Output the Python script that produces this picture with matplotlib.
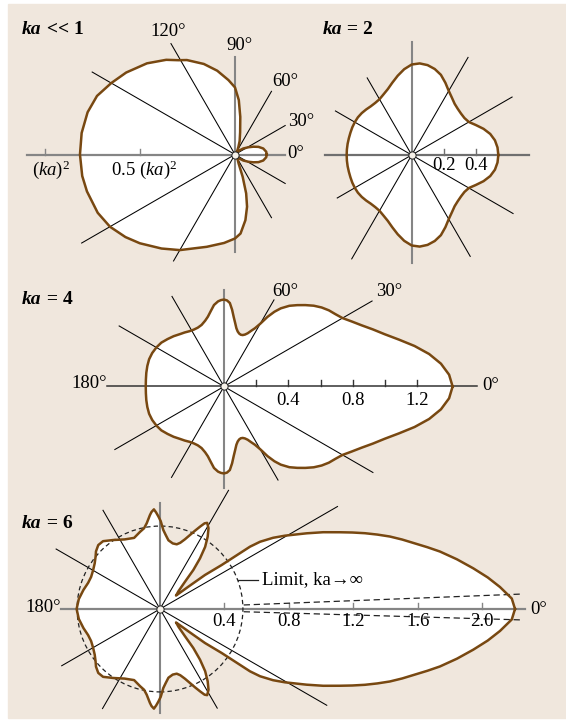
import numpy as np
import matplotlib.pyplot as plt
from matplotlib.patches import Circle, Rectangle
from matplotlib.transforms import Affine2D

plt.rcParams['font.family'] = ['Liberation Serif', 'DejaVu Serif']
plt.rcParams['mathtext.fontset'] = 'custom'
plt.rcParams['mathtext.rm'] = 'Liberation Serif'
plt.rcParams['mathtext.it'] = 'Liberation Serif:italic'
plt.rcParams['mathtext.bf'] = 'Liberation Serif:bold'

W, H = 566, 722
BEIGE = '#f0e7dd'
BROWN = '#784811'
GREY = '#858585'

# scattered pressure amplitude vs angle (deg)
# ka << 1, in units of (ka)^2 ; upper and lower halves differ slightly
ang_p1_up = [0, 5, 12, 18, 23, 28, 36, 42, 48, 55, 60, 66, 71, 77, 82, 86, 90,
             95, 102, 109, 117, 121, 126, 134, 143, 150, 157, 164, 172, 180]
r_p1_up = [0.167, 0.165, 0.152, 0.13, 0.105, 0.082, 0.054, 0.033, 0.012, 0.012,
           0.025, 0.044, 0.075, 0.12, 0.2, 0.287, 0.353, 0.393, 0.451, 0.504,
           0.558, 0.579, 0.616, 0.667, 0.717, 0.752, 0.789, 0.807, 0.815, 0.816]
ang_p1_lo = [0, 5, 12, 18, 23, 28, 36, 42, 48, 55, 62, 68, 71, 74, 77, 81, 86,
             90, 97, 107, 120, 128, 137, 143, 150, 157, 166, 172, 180]
r_p1_lo = [0.167, 0.165, 0.152, 0.13, 0.105, 0.082, 0.054, 0.033, 0.012, 0.015,
           0.03, 0.05, 0.124, 0.213, 0.282, 0.35, 0.417, 0.442, 0.469, 0.508,
           0.581, 0.628, 0.685, 0.722, 0.76, 0.785, 0.803, 0.812, 0.816]

# ka = 2
ang_ka2 = list(range(0, 181, 5))
r_ka2 = [0.538, 0.535, 0.525, 0.505, 0.475, 0.44, 0.41, 0.40, 0.40, 0.405,
         0.415, 0.435, 0.46, 0.495, 0.53, 0.553, 0.567, 0.571, 0.562, 0.535,
         0.50, 0.465, 0.435, 0.415, 0.40, 0.395, 0.395, 0.40, 0.405, 0.408,
         0.408, 0.407, 0.405, 0.404, 0.404, 0.404, 0.404]

# ka = 4
ang_ka4 = [0, 3, 6, 9, 12, 15, 18, 21, 24, 27, 30, 33, 36, 39, 42, 45, 48, 51,
           54, 56, 58, 60, 62, 64, 66, 68, 70, 72, 74, 76, 78, 80, 82, 84, 86,
           88, 90, 92, 94, 97, 100, 103, 106, 110, 114, 118, 122, 126, 130,
           135, 140, 145, 150, 155, 160, 165, 170, 175, 180]
r_ka4 = [1.42, 1.40, 1.355, 1.29, 1.21, 1.125, 1.05, 0.99, 0.935, 0.89, 0.85,
         0.825, 0.805, 0.78, 0.75, 0.715, 0.68, 0.645, 0.60, 0.56, 0.51, 0.45,
         0.41, 0.385, 0.362, 0.348, 0.34, 0.338, 0.342, 0.352, 0.37, 0.40,
         0.435, 0.48, 0.52, 0.535, 0.54, 0.537, 0.53, 0.51, 0.475, 0.445,
         0.425, 0.407, 0.40, 0.40, 0.405, 0.415, 0.425, 0.442, 0.458, 0.475,
         0.485, 0.492, 0.495, 0.493, 0.49, 0.487, 0.486]

# ka = 6
ang_ka6 = [0, 1.7, 3.7, 5.5, 7.4, 9.5, 11.6, 13, 14.4, 16, 17.5, 18.9, 20.3,
           21.7, 23.1, 25.2, 27.3, 28.8, 30.4, 32.2, 33.9, 34.7, 35.5, 37.1,
           38.2, 40, 44, 47.5, 49.5, 51.7, 54, 56.6, 59, 61.3, 62.5, 64, 65.9,
           68, 70.3, 73, 75.5, 79, 83, 85.5, 87.6, 89.5, 91, 92.3, 93.5, 95,
           96.1, 98.8, 101.2, 104.5, 110, 117, 124, 130, 134, 138, 141, 145,
           150, 155, 160, 166, 173, 180]
r_ka6 = [2.205, 2.186, 2.116, 2.045, 1.962, 1.87, 1.775, 1.705, 1.636, 1.565,
         1.497, 1.427, 1.357, 1.285, 1.215, 1.12, 1.025, 0.96, 0.90, 0.83,
         0.749, 0.68, 0.47, 0.35, 0.224, 0.13, 0.16, 0.23, 0.319, 0.401,
         0.477, 0.538, 0.585, 0.61, 0.60, 0.57, 0.533, 0.495, 0.46, 0.43,
         0.415, 0.415, 0.43, 0.46, 0.491, 0.545, 0.575, 0.60, 0.62, 0.605,
         0.587, 0.539, 0.511, 0.495, 0.47, 0.485, 0.517, 0.55, 0.552, 0.535,
         0.515, 0.495, 0.48, 0.472, 0.475, 0.49, 0.508, 0.518]

# large-ka limit: circle of radius a/2 plus the narrowing forward lobe
r_limit = 0.515
lim_x = [0.52, 2.25]
lim_upper = [0.025, 0.093]
lim_lower = [-0.017, -0.068]

spoke_angles = [30, 60, 120, 150, 210, 240, 300, 330]
spokes_p1 = [0.305, 0.384, 0.674, 0.868, 0.932, 0.647, 0.384, 0.305]
spokes_ka2 = [0.72, 0.70, 0.553, 0.547, 0.534, 0.745, 0.727, 0.727]
spokes_ka4 = [1.062, 0.621, 0.646, 0.752, 0.783, 0.652, 0.671, 1.068]
spokes_ka6 = [1.273, 0.851, 0.708, 0.745, 0.705, 0.714, 0.711, 1.196]

ticks_p1 = [-1.0, -0.5]
ticks_ka2 = [0.2, 0.4]
ticks_ka4 = [0.2, 0.4, 0.6, 0.8, 1.0, 1.2]
labels_ka4 = [0.4, 0.8, 1.2]
ticks_ka6 = [0.4, 0.8, 1.2, 1.6, 2.0]

fig = plt.figure(figsize=(W / 100, H / 100), dpi=100)
fig.patches.append(Rectangle((8 / W, 4 / H), (W - 8) / W, (H - 8) / H,
                             transform=fig.transFigure, color=BEIGE,
                             zorder=-10))
# pixel coordinates, origin top left
pix = Affine2D().scale(1 / W, -1 / H).translate(0, 1) + fig.transFigure


def panel(cx, cy, s):
    ax = fig.add_axes([0, 0, 1, 1])
    ax.set_xlim(-cx / s, (W - cx) / s)
    ax.set_ylim(-(H - cy) / s, cy / s)
    ax.axis('off')
    return ax


def outline(ax, ang_up, r_up, ang_lo=None, r_lo=None):
    if ang_lo is None:
        ang_lo, r_lo = ang_up, r_up
    th = np.radians(np.concatenate([ang_up, -np.asarray(ang_lo)[::-1]]))
    rr = np.concatenate([r_up, np.asarray(r_lo)[::-1]])
    x, y = rr * np.cos(th), rr * np.sin(th)
    ax.fill(x, y, color='white', lw=0, zorder=1)
    ax.plot(np.append(x, x[0]), np.append(y, y[0]), color=BROWN, lw=1.8,
            solid_joinstyle='round', zorder=4)


def spokes(ax, lengths):
    for a, L in zip(spoke_angles, lengths):
        t = np.radians(a)
        ax.plot([0, L * np.cos(t)], [0, L * np.sin(t)], color='black',
                lw=0.75, zorder=2)


def frame(ax, s, xr, yr, ticks, hcol=GREY, hlw=1.6):
    ax.plot(xr, [0, 0], color=hcol, lw=hlw, zorder=3)
    ax.plot([0, 0], yr, color=GREY, lw=1.5, zorder=3)
    for t in ticks:
        ax.plot([t, t], [0, 6 / s], color=hcol, lw=1.0, zorder=3)
    ax.plot(0, 0, 'o', ms=5.2, mfc='#f7f2ea', mec='#222222', mew=0.7, zorder=6)


# text layer on top of all the patterns
ax_all = fig.add_axes([0, 0, 1, 1])
ax_all.axis('off')
ax_all.set_zorder(10)


def title(x, y, rest):
    t = ax_all.text(x, y, 'ka', transform=pix, fontsize=14, fontweight='bold',
                    fontstyle='italic', ha='left', va='center')
    ax_all.annotate(rest, xy=(1, 0), xycoords=t, fontsize=14,
                    fontweight='bold', ha='left', va='bottom')


def label(text, x, y, ha='center'):
    ax_all.text(x, y, text, transform=pix, fontsize=13.5, ha=ha, va='center')


# ka << 1
s1 = 190
ax1 = panel(235, 154.5, s1)
outline(ax1, ang_p1_up, r_p1_up, ang_p1_lo, r_p1_lo)
spokes(ax1, spokes_p1)
frame(ax1, s1, [-1.095, 0.263], [-0.513, 0.513], ticks_p1)
label('$(ka)^2$', 51, 170)
label('0.5 $(ka)^2$', 144, 170)
label('120°', 168, 32)
label('90°', 239, 46)
label('60°', 285, 81)
label('30°', 301, 122)
label('0°', 287, 153, ha='left')
title(22, 29, ' << 1')

# ka = 2
s2 = 161
ax2 = panel(411.7, 155, s2)
outline(ax2, ang_ka2, r_ka2)
spokes(ax2, spokes_ka2)
frame(ax2, s2, [-0.539, 0.729], [-0.671, 0.702], ticks_ka2, hcol='#6f6f6f')
for t in ticks_ka2:
    ax2.text(t, -11 / s2, f'{t:.1f}', fontsize=13.5, ha='center', va='center')
title(322.7, 29, ' = 2')

# ka = 4
s3 = 161
ax3 = panel(224, 386.5, s3)
outline(ax3, ang_ka4, r_ka4)
spokes(ax3, spokes_ka4)
frame(ax3, s3, [-0.727, 1.571], [-0.63, 0.599], ticks_ka4,
      hcol='#333333', hlw=1.1)
for t in labels_ka4:
    ax3.text(t, -14.5 / s3, f'{t:.1f}', fontsize=13.5, ha='center', va='center')
label('60°', 285, 291)
label('30°', 389, 292)
label('180°', 107, 383, ha='right')
label('0°', 482, 386, ha='left')
title(22, 300, ' = 4')

# ka = 6
s4 = 161
ax4 = panel(160, 609, s4)
outline(ax4, ang_ka6, r_ka6)
spokes(ax4, spokes_ka6)
frame(ax4, s4, [-0.615, 2.267], [-0.646, 0.658], ticks_ka6)
ax4.add_patch(Circle((0, 0), r_limit, fill=False, ec='#222222', lw=0.9,
                     ls=(0, (3.5, 2.5)), zorder=3))
ax4.plot(lim_x, lim_upper, color='#222222', lw=0.9, ls=(0, (5, 3)), zorder=3)
ax4.plot(lim_x, lim_lower, color='#222222', lw=0.9, ls=(0, (5, 3)), zorder=3)
ax4.plot([0.485, 0.61], [0.18, 0.18], color='#222222', lw=0.9, zorder=3)
ax4.text(0.635, 0.18, 'Limit, ka→∞', fontsize=13.5, ha='left', va='center')
for t in ticks_ka6:
    ax4.text(t, -13 / s4, f'{t:.1f}', fontsize=13.5, ha='center', va='center')
label('180°', 61, 607, ha='right')
label('0°', 530, 609, ha='left')
title(22, 523, ' = 6')

fig.savefig('out.png', dpi=100)
